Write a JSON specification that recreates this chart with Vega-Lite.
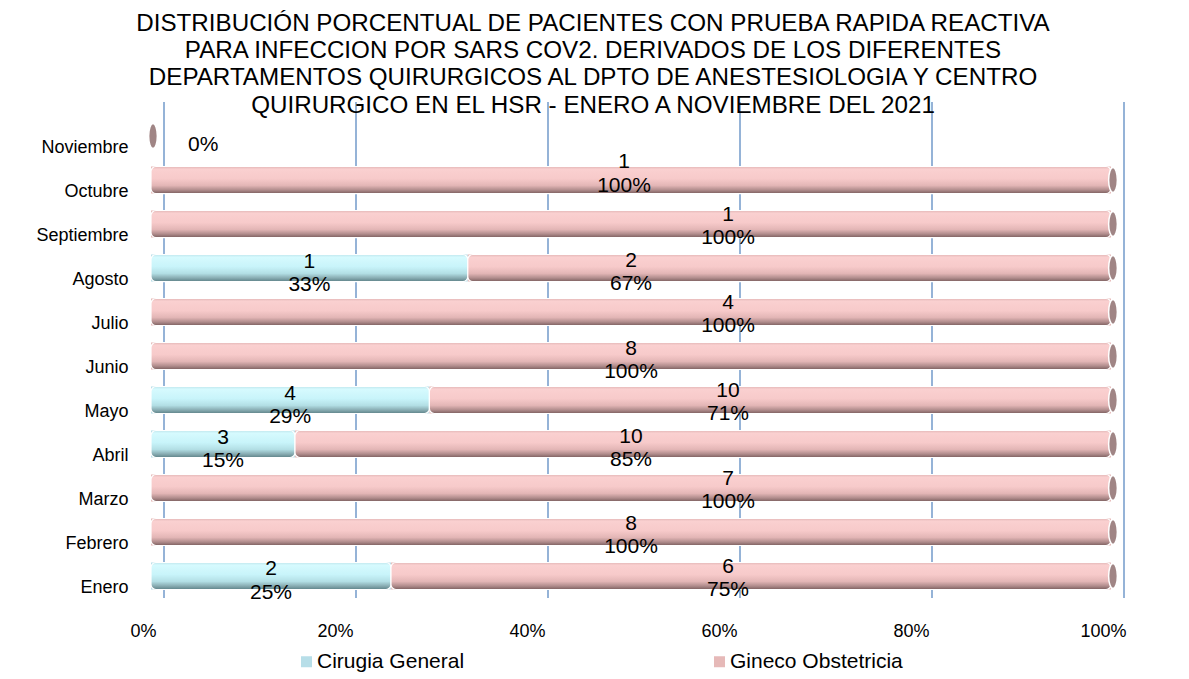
{
  "$schema": "https://vega.github.io/schema/vega-lite/v6.json",
  "autosize": "none",
  "width": 960,
  "height": 496,
  "padding": {"left": 151, "top": 102, "right": 78, "bottom": 81},
  "background": "white",
  "config": {
    "view": {"stroke": null},
    "font": "Liberation Sans",
    "text": {"font": "Liberation Sans", "fontSize": 21, "color": "#000000", "baseline": "middle", "align": "center"}
  },
  "title": {
    "text": [
      "DISTRIBUCIÓN PORCENTUAL DE PACIENTES CON PRUEBA RAPIDA REACTIVA",
      "PARA INFECCION POR SARS COV2. DERIVADOS DE LOS DIFERENTES",
      "DEPARTAMENTOS QUIRURGICOS AL DPTO DE ANESTESIOLOGIA Y CENTRO",
      "QUIRURGICO EN EL HSR - ENERO A NOVIEMBRE DEL 2021"
    ],
    "font": "Liberation Sans",
    "fontSize": 24.2,
    "fontWeight": "normal",
    "color": "#000000",
    "lineHeight": 27.3,
    "anchor": "middle",
    "dx": -38,
    "baseline": "alphabetic",
    "offset": -36
  },
  "datasets": {
    "main": [
      {"month": "Enero", "group": "Cirugia General", "count": 2, "pct": 0.25},
      {"month": "Enero", "group": "Gineco Obstetricia", "count": 6, "pct": 0.75},
      {"month": "Febrero", "group": "Gineco Obstetricia", "count": 8, "pct": 1.0},
      {"month": "Marzo", "group": "Gineco Obstetricia", "count": 7, "pct": 1.0},
      {"month": "Abril", "group": "Cirugia General", "count": 3, "pct": 0.15},
      {"month": "Abril", "group": "Gineco Obstetricia", "count": 10, "pct": 0.85},
      {"month": "Mayo", "group": "Cirugia General", "count": 4, "pct": 0.29},
      {"month": "Mayo", "group": "Gineco Obstetricia", "count": 10, "pct": 0.71},
      {"month": "Junio", "group": "Gineco Obstetricia", "count": 8, "pct": 1.0},
      {"month": "Julio", "group": "Gineco Obstetricia", "count": 4, "pct": 1.0},
      {"month": "Agosto", "group": "Cirugia General", "count": 1, "pct": 0.33},
      {"month": "Agosto", "group": "Gineco Obstetricia", "count": 2, "pct": 0.67},
      {"month": "Septiembre", "group": "Gineco Obstetricia", "count": 1, "pct": 1.0},
      {"month": "Octubre", "group": "Gineco Obstetricia", "count": 1, "pct": 1.0},
      {"month": "Noviembre", "group": "Gineco Obstetricia", "count": 0, "pct": 0.0}
    ],
    "ticks": [
      {"tick": 0}, {"tick": 0.2}, {"tick": 0.4}, {"tick": 0.6}, {"tick": 0.8}, {"tick": 1.0}
    ]
  },
  "encoding": {
    "y": {
      "field": "month",
      "type": "nominal",
      "sort": ["Noviembre", "Octubre", "Septiembre", "Agosto", "Julio", "Junio", "Mayo", "Abril", "Marzo", "Febrero", "Enero"],
      "scale": {"paddingInner": 0.386, "paddingOuter": 0.33, "align": 0.707},
      "axis": {
        "title": null,
        "domain": false,
        "ticks": false,
        "grid": false,
        "labelFont": "Liberation Sans",
        "labelFontSize": 18,
        "labelColor": "#000000",
        "labelPadding": 23,
        "labelOffset": 12
      }
    }
  },
  "layer": [
    {
      "data": {"name": "ticks"},
      "mark": {"type": "rule", "color": "#95B3D7", "strokeWidth": 2, "xOffset": 13},
      "encoding": {
        "x": {"field": "tick", "type": "quantitative", "scale": {"domain": [0, 1], "nice": false, "zero": true},
          "axis": {
            "title": null,
            "domain": false,
            "ticks": false,
            "grid": false,
            "values": [0, 0.2, 0.4, 0.6, 0.8, 1.0],
            "format": ".0%",
            "labelFont": "Liberation Sans",
            "labelFontSize": 18,
            "labelColor": "#000000",
            "labelPadding": 24,
            "labelOffset": -8,
            "labelFlush": false
          }
        },
        "y": null
      }
    },
    {
      "data": {"name": "main"},
      "transform": [
        {"stack": "pct", "groupby": ["month"], "sort": [{"field": "group", "order": "ascending"}], "as": ["x0", "x1"]}
      ],
      "mark": {"type": "bar"},
      "encoding": {
        "x": {"field": "x0", "type": "quantitative"},
        "x2": {"field": "x1"},
        "color": {
          "field": "group",
          "type": "nominal",
          "scale": {"domain": ["Cirugia General", "Gineco Obstetricia"], "range": ["#B7DEE8", "#E6B9B8"]},
          "legend": {
            "title": null,
            "orient": "none",
            "legendX": 145,
            "legendY": 549,
            "direction": "horizontal",
            "symbolType": "square",
            "symbolSize": 121,
            "symbolStrokeWidth": 0,
            "labelFont": "Liberation Sans",
            "labelFontSize": 21,
            "labelColor": "#000000",
            "labelOffset": 0,
            "labelLimit": 400,
            "columnPadding": 244,
            "padding": 0
          }
        }
      }
    },
    {
      "data": {"name": "main"},
      "transform": [
        {"stack": "pct", "groupby": ["month"], "sort": [{"field": "group", "order": "ascending"}], "as": ["x0", "x1"]},
        {"filter": "datum.group === 'Cirugia General'"}
      ],
      "mark": {
        "type": "bar",
        "cornerRadius": 5,
        "stroke": "#FFFFFF",
        "strokeWidth": 1.2,
        "color": {
          "gradient": "linear", "x1": 0, "y1": 0, "x2": 0, "y2": 1,
          "stops": [
            {"offset": 0, "color": "#BFE6EC"},
            {"offset": 0.1, "color": "#D6FAFE"},
            {"offset": 0.45, "color": "#C8F4FA"},
            {"offset": 0.7, "color": "#B3DFE5"},
            {"offset": 0.87, "color": "#88ACB2"},
            {"offset": 1, "color": "#5E8288"}
          ]
        }
      },
      "encoding": {
        "x": {"field": "x0", "type": "quantitative"},
        "x2": {"field": "x1"}
      }
    },
    {
      "data": {"name": "main"},
      "transform": [
        {"stack": "pct", "groupby": ["month"], "sort": [{"field": "group", "order": "ascending"}], "as": ["x0", "x1"]},
        {"filter": "datum.group === 'Gineco Obstetricia' && datum.pct > 0"}
      ],
      "mark": {
        "type": "bar",
        "cornerRadius": 5,
        "stroke": "#FFFFFF",
        "strokeWidth": 1.2,
        "color": {
          "gradient": "linear", "x1": 0, "y1": 0, "x2": 0, "y2": 1,
          "stops": [
            {"offset": 0, "color": "#E2B6B6"},
            {"offset": 0.1, "color": "#FAD0D0"},
            {"offset": 0.45, "color": "#F7CACA"},
            {"offset": 0.7, "color": "#E3B6B6"},
            {"offset": 0.87, "color": "#B08C8C"},
            {"offset": 1, "color": "#7C5F5F"}
          ]
        }
      },
      "encoding": {
        "x": {"field": "x0", "type": "quantitative"},
        "x2": {"field": "x1"}
      }
    },
    {
      "data": {"name": "main"},
      "transform": [
        {"stack": "pct", "groupby": ["month"], "sort": [{"field": "group", "order": "ascending"}], "as": ["x0", "x1"]}
      ],
      "mark": {
        "type": "point",
        "shape": "M0,-1A0.35,1 0 1,1 0,1A0.35,1 0 1,1 0,-1Z",
        "size": 625,
        "filled": true,
        "fill": "#A08585",
        "stroke": "#FFFFFF",
        "strokeWidth": 1.5,
        "opacity": 1,
        "xOffset": 2
      },
      "encoding": {
        "x": {"aggregate": "max", "field": "x1", "type": "quantitative"}
      }
    },
    {
      "data": {"name": "main"},
      "transform": [
        {"stack": "pct", "groupby": ["month"], "sort": [{"field": "group", "order": "ascending"}], "as": ["x0", "x1"]},
        {"filter": "datum.group === 'Cirugia General'"},
        {"fold": ["x0", "x1"], "as": ["edge", "pos"]},
        {"aggregate": [{"op": "mean", "field": "pos", "as": "mid"}], "groupby": ["month", "group", "count", "pct"]}
      ],
      "mark": {"type": "text", "dy": -6.5},
      "encoding": {
        "x": {"field": "mid", "type": "quantitative"},
        "text": {"field": "count", "type": "quantitative", "format": "d"}
      }
    },
    {
      "data": {"name": "main"},
      "transform": [
        {"stack": "pct", "groupby": ["month"], "sort": [{"field": "group", "order": "ascending"}], "as": ["x0", "x1"]},
        {"filter": "datum.group === 'Cirugia General'"},
        {"fold": ["x0", "x1"], "as": ["edge", "pos"]},
        {"aggregate": [{"op": "mean", "field": "pos", "as": "mid"}], "groupby": ["month", "group", "count", "pct"]}
      ],
      "mark": {"type": "text", "dy": 17},
      "encoding": {
        "x": {"field": "mid", "type": "quantitative"},
        "text": {"field": "pct", "type": "quantitative", "format": ".0%"}
      }
    },
    {
      "data": {"name": "main"},
      "transform": [
        {"filter": "datum.group === 'Gineco Obstetricia' && datum.count > 0 && indexof(['Agosto', 'Junio', 'Abril', 'Febrero'], datum.month) >= 0"}
      ],
      "mark": {"type": "text", "dy": -7.5},
      "encoding": {
        "x": {"datum": 0.5, "type": "quantitative"},
        "text": {"field": "count", "type": "quantitative", "format": "d"}
      }
    },
    {
      "data": {"name": "main"},
      "transform": [
        {"filter": "datum.group === 'Gineco Obstetricia' && datum.count > 0 && indexof(['Agosto', 'Junio', 'Abril', 'Febrero'], datum.month) >= 0"}
      ],
      "mark": {"type": "text", "dy": 15.5},
      "encoding": {
        "x": {"datum": 0.5, "type": "quantitative"},
        "text": {"field": "pct", "type": "quantitative", "format": ".0%"}
      }
    },
    {
      "data": {"name": "main"},
      "transform": [
        {"filter": "datum.month === 'Octubre'"}
      ],
      "mark": {"type": "text", "dy": -18, "dx": -7},
      "encoding": {
        "x": {"datum": 0.5, "type": "quantitative"},
        "text": {"field": "count", "type": "quantitative", "format": "d"}
      }
    },
    {
      "data": {"name": "main"},
      "transform": [
        {"filter": "datum.month === 'Octubre'"}
      ],
      "mark": {"type": "text", "dy": 6, "dx": -7},
      "encoding": {
        "x": {"datum": 0.5, "type": "quantitative"},
        "text": {"field": "pct", "type": "quantitative", "format": ".0%"}
      }
    },
    {
      "data": {"name": "main"},
      "transform": [
        {"filter": "datum.group === 'Gineco Obstetricia' && indexof(['Septiembre', 'Julio', 'Mayo', 'Marzo', 'Enero'], datum.month) >= 0"}
      ],
      "mark": {"type": "text", "dy": -9, "dx": 97},
      "encoding": {
        "x": {"datum": 0.5, "type": "quantitative"},
        "text": {"field": "count", "type": "quantitative", "format": "d"}
      }
    },
    {
      "data": {"name": "main"},
      "transform": [
        {"filter": "datum.group === 'Gineco Obstetricia' && indexof(['Septiembre', 'Julio', 'Mayo', 'Marzo', 'Enero'], datum.month) >= 0"}
      ],
      "mark": {"type": "text", "dy": 14, "dx": 97},
      "encoding": {
        "x": {"datum": 0.5, "type": "quantitative"},
        "text": {"field": "pct", "type": "quantitative", "format": ".0%"}
      }
    },
    {
      "data": {"name": "main"},
      "transform": [
        {"filter": "datum.count === 0"}
      ],
      "mark": {"type": "text", "align": "left", "dx": 37, "dy": 9},
      "encoding": {
        "x": {"field": "pct", "type": "quantitative"},
        "text": {"field": "pct", "type": "quantitative", "format": ".0%"}
      }
    }
  ],
  "resolve": {"scale": {"x": "shared"}}
}
